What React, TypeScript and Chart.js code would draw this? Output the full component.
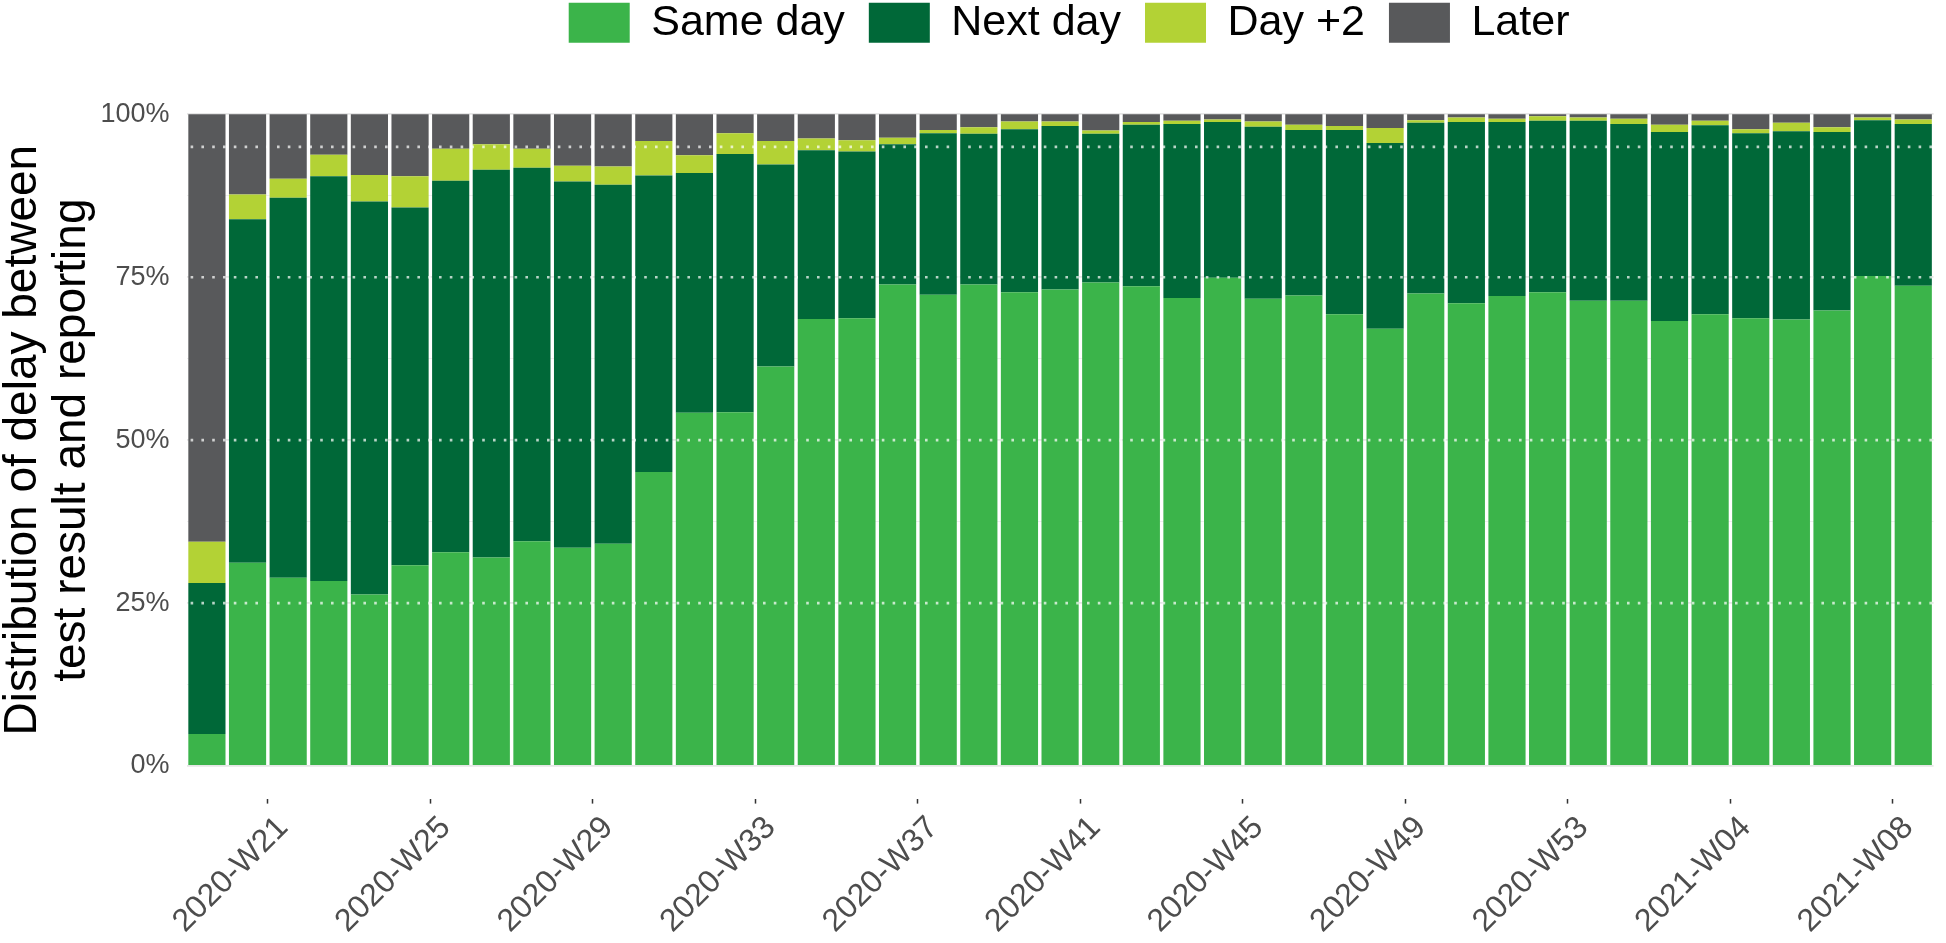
import React, { useEffect, useRef } from "react";
import { Chart, registerables } from "chart.js";

Chart.register(...registerables);

const FONT = "'Liberation Sans', Arial, Helvetica, sans-serif";

const weekLabels = [
  "2020-W19", "2020-W20", "2020-W21", "2020-W22", "2020-W23", "2020-W24", "2020-W25", "2020-W26",
  "2020-W27", "2020-W28", "2020-W29", "2020-W30", "2020-W31", "2020-W32", "2020-W33", "2020-W34",
  "2020-W35", "2020-W36", "2020-W37", "2020-W38", "2020-W39", "2020-W40", "2020-W41", "2020-W42",
  "2020-W43", "2020-W44", "2020-W45", "2020-W46", "2020-W47", "2020-W48", "2020-W49", "2020-W50",
  "2020-W51", "2020-W52", "2020-W53", "2021-W01", "2021-W02", "2021-W03", "2021-W04", "2021-W05",
  "2021-W06", "2021-W07", "2021-W08",
];

const shownTickLabels = [
  "2020-W21", "2020-W25", "2020-W29", "2020-W33", "2020-W37", "2020-W41",
  "2020-W45", "2020-W49", "2020-W53", "2021-W04", "2021-W08",
];

const sameDay = [
  4.9, 31.2, 28.9, 28.4, 26.3, 30.8, 32.8, 32.0, 34.5, 33.5, 34.1, 45.1, 54.2, 54.3, 61.3, 68.6,
  68.7, 73.9, 72.3, 73.9, 72.7, 73.1, 74.2, 73.6, 71.8, 74.9, 71.7, 72.2, 69.3, 67.1, 72.5, 71.0,
  72.1, 72.7, 71.4, 71.4, 68.3, 69.3, 68.7, 68.5, 69.9, 75.2, 73.7,
];

const nextDay = [
  23.2, 52.7, 58.3, 62.1, 60.3, 54.9, 57.0, 59.5, 57.3, 56.2, 55.1, 45.5, 36.8, 39.6, 31.0, 25.9,
  25.6, 21.5, 24.8, 23.1, 25.0, 25.1, 22.8, 24.8, 26.7, 23.9, 26.4, 25.4, 28.3, 28.5, 26.2, 27.8,
  26.7, 26.3, 27.6, 27.1, 29.0, 29.0, 28.4, 28.9, 27.4, 23.9, 24.8,
];

const dayPlus2 = [
  6.3, 3.8, 2.9, 3.3, 4.1, 4.8, 4.9, 3.9, 2.9, 2.4, 2.8, 5.3, 2.7, 3.2, 3.6, 1.8,
  1.7, 1.0, 0.5, 1.0, 1.2, 0.7, 0.5, 0.4, 0.5, 0.4, 0.8, 0.8, 0.6, 2.3, 0.4, 0.7,
  0.5, 0.7, 0.5, 0.8, 1.1, 0.7, 0.6, 1.3, 0.7, 0.4, 0.7,
];

const later = [
  65.6, 12.3, 9.9, 6.2, 9.3, 9.5, 5.3, 4.6, 5.3, 7.9, 8.0, 4.1, 6.3, 2.9, 4.1, 3.7,
  4.0, 3.6, 2.4, 2.0, 1.1, 1.1, 2.5, 1.2, 1.0, 0.8, 1.1, 1.6, 1.8, 2.1, 0.9, 0.5,
  0.7, 0.3, 0.5, 0.7, 1.6, 1.0, 2.3, 1.3, 2.0, 0.5, 0.8,
];

const seriesNames = ["Same day", "Next day", "Day +2", "Later"];
const seriesColors = ["#3bb44a", "#006838", "#b3d235", "#58595b"];

const yGridValues = [0, 12.5, 25, 37.5, 50, 62.5, 75, 87.5, 100];
const yLabelValues = [0, 25, 50, 75, 100];
const refLines = [25, 50, 75, 95];

export default function App() {
  const canvasRef = useRef<HTMLCanvasElement | null>(null);

  useEffect(() => {
    const canvas = canvasRef.current;
    if (!canvas) return;

    const refLinePlugin = {
      id: "refLinePlugin",
      afterDatasetsDraw(chart: any) {
        const { ctx, chartArea, scales } = chart;
        ctx.save();
        ctx.strokeStyle = "rgba(255,255,255,0.72)";
        ctx.lineWidth = 2.6;
        ctx.lineCap = "butt";
        ctx.setLineDash([2.6, 8.2]);
        refLines.forEach((v) => {
          const y = scales.y.getPixelForValue(v);
          ctx.beginPath();
          ctx.moveTo(chartArea.left + 4, y);
          ctx.lineTo(chartArea.right, y);
          ctx.stroke();
        });
        ctx.restore();
      },
    };

    const legendPlacePlugin = {
      id: "legendPlacePlugin",
      afterLayout(chart: any) {
        const lg = chart.legend;
        const ca = chart.chartArea;
        if (!lg || !ca) return;
        const h = lg.bottom - lg.top;
        lg.left = ca.left + 9;
        lg.right = ca.right + 9;
        lg.width = lg.right - lg.left;
        lg.top = -22.8;
        lg.bottom = lg.top + h;
      },
    };

    const datasets = [sameDay, nextDay, dayPlus2, later].map((data, i) => ({
      label: seriesNames[i],
      data,
      backgroundColor: seriesColors[i],
      borderWidth: 0,
      barPercentage: 0.915,
      categoryPercentage: 1.0,
    }));

    const chart = new Chart(canvas, {
      type: "bar",
      data: { labels: weekLabels, datasets },
      plugins: [refLinePlugin, legendPlacePlugin],
      options: {
        responsive: false,
        animation: false,
        devicePixelRatio: 1,
        layout: { padding: { top: 4.7, right: 7.6, left: 0, bottom: 0 } },
        plugins: {
          legend: {
            position: "top",
            labels: {
              boxWidth: 61,
              boxHeight: 40,
              padding: 24,
              color: "#000000",
              font: { family: FONT, size: 43 },
            },
          },
          tooltip: { enabled: false },
        },
        scales: {
          x: {
            stacked: true,
            offset: true,
            grid: {
              drawOnChartArea: false,
              drawTicks: true,
              tickLength: 5,
              tickWidth: 1.5,
              tickColor: (ctx: any) =>
                shownTickLabels.includes(weekLabels[ctx.index]) ? "#333333" : "rgba(0,0,0,0)",
            },
            border: { display: false },
            ticks: {
              autoSkip: false,
              minRotation: 45,
              maxRotation: 45,
              padding: 5.5,
              labelOffset: -5,
              color: "#4d4d4d",
              font: { family: FONT, size: 32 },
              callback: (_v: any, index: number) =>
                shownTickLabels.includes(weekLabels[index]) ? weekLabels[index] : "",
            },
            afterFit: (scale: any) => {
              scale.height = 144.4;
            },
          },
          y: {
            stacked: true,
            min: -5,
            max: 105,
            afterBuildTicks: (scale: any) => {
              scale.ticks = yGridValues.map((v) => ({ value: v }));
            },
            grid: {
              drawTicks: false,
              color: (ctx: any) =>
                ctx.tick && yLabelValues.includes(ctx.tick.value) ? "#e6e6e6" : "#efefef",
              lineWidth: (ctx: any) =>
                ctx.tick && yLabelValues.includes(ctx.tick.value) ? 1.8 : 1.0,
            },
            border: { display: false },
            ticks: {
              padding: 17,
              color: "#4d4d4d",
              font: { family: FONT, size: 27 },
              callback: (v: any) => (yLabelValues.includes(Number(v)) ? `${v}%` : ""),
            },
            title: {
              display: true,
              text: ["Distribution of delay between", "test result and reporting"],
              color: "#000000",
              font: { family: FONT, size: 46, lineHeight: 1.06 },
              padding: { top: -1, bottom: 0 },
            },
            afterFit: (scale: any) => {
              scale.width = 186.6;
            },
          },
        },
      },
    });

    return () => {
      chart.destroy();
    };
  }, []);

  return (
    <div style={{ position: "fixed", left: 0, top: 0, width: 1946, height: 943, background: "#ffffff" }}>
      <canvas ref={canvasRef} width={1946} height={943} style={{ display: "block", width: 1946, height: 943 }} />
    </div>
  );
}
